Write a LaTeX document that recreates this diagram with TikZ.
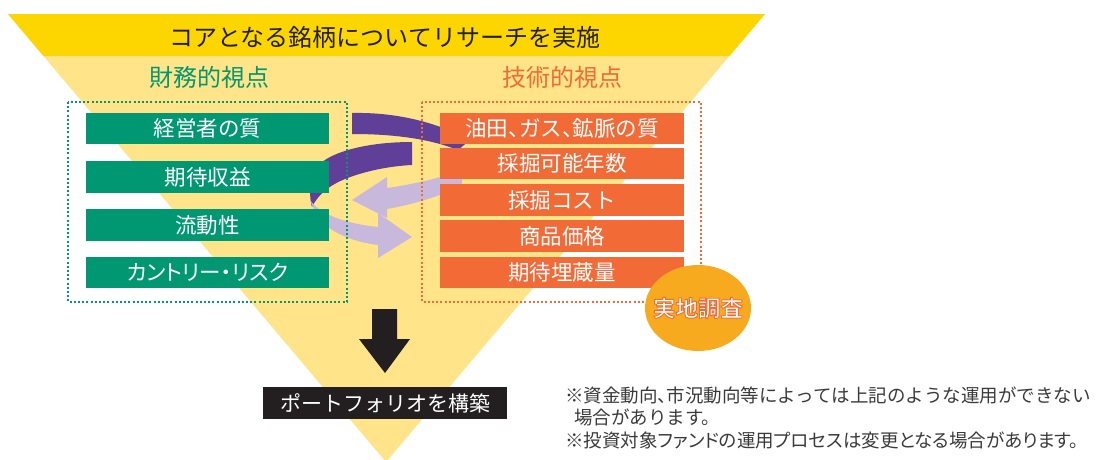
\documentclass[tikz,border=0pt]{standalone}
\usepackage{fontspec}
\setmainfont{Noto Sans CJK JP}
\newfontfamily\surveyfont{Noto Sans CJK JP Bold}
\usetikzlibrary{shapes.geometric}
\definecolor{cband}{HTML}{FDD600}
\definecolor{cfunnel}{HTML}{FFE489}
\definecolor{cgreen}{HTML}{009873}
\definecolor{corange}{HTML}{F26A36}
\definecolor{camber}{HTML}{F8AA1E}
\definecolor{cpurple}{HTML}{5F3F97}
\definecolor{clav}{HTML}{C8B8DB}
\definecolor{cdark}{HTML}{231F20}
\definecolor{cnote}{HTML}{3A3A3A}
\newcommand{\halfpunct}{\addfontfeatures{RawFeature=+halt}}
\newcommand{\propkana}{\addfontfeatures{RawFeature=+palt}}
\newcommand{\outlinedtext}[1]{\special{pdf:literal direct 2 Tr 0.9 w 0.949 0.416 0.212 RG}#1\special{pdf:literal direct 0 Tr}}
\begin{document}
\begin{tikzpicture}[x=1pt,y=-1pt,
  gbox/.style={fill=cgreen,text=white,minimum width=243pt,minimum height=31.5pt,inner sep=0pt,font=\fontsize{21.5}{22}\selectfont},
  obox/.style={fill=corange,text=white,minimum width=244pt,minimum height=31.5pt,inner sep=0pt,font=\fontsize{21.5}{22}\selectfont},
  dotframe/.style={line width=2pt,dash pattern=on 2pt off 2.2pt},
  head/.style={font=\fontsize{24}{26}\selectfont,inner sep=0pt},
  note/.style={font=\fontsize{18.5}{20}\selectfont,text=cnote,inner sep=0pt,anchor=west},
  purplearrow/.style={fill=cpurple},
  lavarrow/.style={fill=clav}]
\useasboundingbox (0,0) rectangle (1103,459);
% funnel
\fill[cfunnel] (8,14) -- (765,14) -- (386,462) -- cycle;
\fill[cband] (8,14) -- (765,14) -- (729.3,56) -- (43.6,56) -- cycle;
\node[head,text=cdark] (title) at (385,37) {コアとなる銘柄についてリサーチを実施};
\node[head,text=cgreen] (fin) at (209,77) {財務的視点};
\node[head,text=corange] (tech) at (562,77) {技術的視点};
% cycle arrows (behind boxes)
\path[purplearrow] (352,113) .. controls (400,112) and (440,124) .. (470,140)
   -- (458,150) .. controls (430,139) and (395,134) .. (352,134) -- cycle;
\path[purplearrow] (412,142) .. controls (360,142) and (318,155) .. (312,175)
   .. controls (309,190) and (310,200) .. (312,207)
   .. controls (318,195) and (328,186) .. (345,179)
   .. controls (365,171) and (390,166) .. (412,165) -- cycle;
\path[lavarrow] (352,200) -- (387,177) -- (387,188)
   .. controls (415,184) and (440,178) .. (462,170) -- (462,186)
   .. controls (440,196) and (415,204) .. (387,209) -- (387,218) -- cycle;
\path[lavarrow] (310,200) .. controls (318,212) and (340,223) .. (378,227)
   -- (378,213) -- (412,237) -- (378,258) -- (378,245)
   .. controls (345,241) and (318,226) .. (313,207) -- cycle;
% dotted frames
\draw[dotframe,cgreen] (68,102) rectangle (347,302);
\draw[dotframe,corange] (422,102) rectangle (701,302);
% financial boxes
\node[gbox] (g1) at (207.5,128.5) {経営者の質};
\node[gbox] (g2) at (207.5,177) {期待収益};
\node[gbox] (g3) at (207.5,225) {流動性};
\node[gbox] (g4) at (207.5,272.5) {\propkana カントリー・リスク};
% technical boxes
\node[obox] (o1) at (562,128.5) {\halfpunct 油田、ガス、鉱脈の質};
\node[obox] (o2) at (562,163.5) {採掘可能年数};
\node[obox] (o3) at (562,200) {採掘コスト};
\node[obox] (o4) at (562,236) {商品価格};
\node[obox] (o5) at (562,272.5) {期待埋蔵量};
% field survey badge
\node[ellipse,fill=camber,minimum width=106pt,minimum height=86pt,inner sep=0pt] (survey) at (698,308) {};
\node[inner sep=0pt,font=\surveyfont\fontsize{22.5}{24}\selectfont,text=white] (surveytext) at (survey.center) {\outlinedtext{実地調査}};
% down arrow
\fill[cdark] (372,309) -- (397,309) -- (397,339) -- (410,339) -- (385,373) -- (359,339) -- (372,339) -- cycle;
\node[fill=cdark,text=white,minimum width=244pt,minimum height=32pt,inner sep=0pt,font=\fontsize{21}{22}\selectfont] (port) at (385,403) {ポートフォリオを構築};
% notes
\node[note] (n1) at (565,395) {\halfpunct ※資金動向、市況動向等によっては上記のような運用ができない};
\node[note] (n2) at (574,417.5) {場合があります。};
\node[note] (n3) at (565,440) {\propkana ※投資対象ファンドの運用プロセスは変更となる場合があります。};
\end{tikzpicture}
\end{document}
